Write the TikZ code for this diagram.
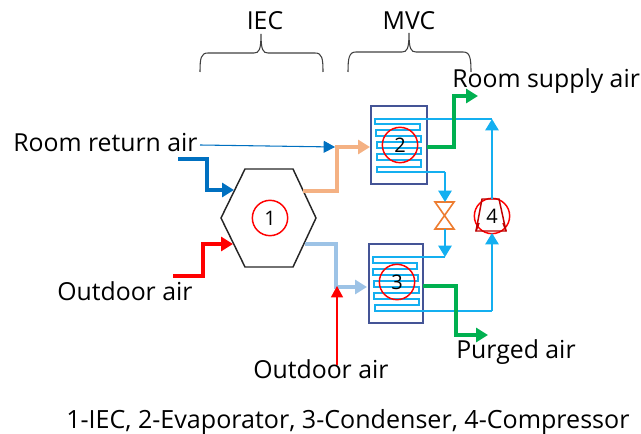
\documentclass[tikz,border=0pt]{standalone}
\usepackage{fontspec}
\setmainfont{Open Sans}
\usetikzlibrary{arrows.meta}
\definecolor{boxblue}{RGB}{68,84,150}
\definecolor{coilblue}{RGB}{20,175,240}
\definecolor{retblue}{RGB}{0,112,192}
\definecolor{pipegreen}{RGB}{0,176,80}
\definecolor{coolorange}{RGB}{244,177,131}
\definecolor{coolblue}{RGB}{157,195,230}
\definecolor{valveorange}{RGB}{237,125,49}
\definecolor{compred}{RGB}{192,0,0}
\tikzset{
  lbl/.style={inner sep=0pt,anchor=base west,font=\fontsize{18.6}{22}\selectfont},
  numcircle/.style={draw=red,line width=1.1pt,circle,minimum size=26.5pt,inner sep=0pt,font=\fontsize{15}{18}\selectfont},
  pipe/.style={line width=3pt,-{Triangle[length=9pt,width=10.5pt]}},
  coil/.style={draw=coilblue,line width=1.2pt},
  feed/.style={coil,-{Triangle[length=8.5pt,width=10pt]}},
  unitbox/.style={draw=boxblue,line width=1.2pt},
  brace/.style={draw=black!75,line width=0.8pt}
}
\begin{document}
\begin{tikzpicture}[x=0.75pt,y=-0.75pt]
    \useasboundingbox (0,0) rectangle (641,434);

    \node [lbl,anchor=base] (iec) at (265,30) {IEC};
    \node [lbl,anchor=base] (mvc) at (409,30) {MVC};
    \node [lbl] (sup) at (452,88) {Room supply air};
    \node [lbl] (ret) at (13,152) {Room return air};
    \node [lbl] (out1) at (57,300) {Outdoor air};
    \node [lbl] (out2) at (253,378) {Outdoor air};
    \node [lbl] (pur) at (456,358) {Purged air};
    \node [lbl,font=\fontsize{18.8}{22}\selectfont] (cap) at (66,428) {1-IEC, 2-Evaporator, 3-Condenser, 4-Compressor};

    % braces
    \draw [brace] (200,72) .. controls (200,58) and (201,53) .. (208,53) -- (254,53) .. controls (259,53) and (261,50) .. (261,34)
      .. controls (261,50) and (263,53) .. (268,53) -- (315,53) .. controls (322,53) and (323,58) .. (323,72);
    \draw [brace] (348,72) .. controls (348,58) and (349,52) .. (356,52) -- (402,52) .. controls (407,52) and (409,49) .. (409,33)
      .. controls (409,49) and (411,52) .. (416,52) -- (463,52) .. controls (470,52) and (471,58) .. (471,72);

    % hexagon
    \draw [line width=1.1pt,black!85] (221,218) -- (245,169) -- (293,169) -- (316,218) -- (293,267) -- (245,267) -- cycle;

    % boxes
    \draw [unitbox] (371,106) rectangle (427,184);
    \draw [unitbox] (369,244) rectangle (423,323);

    % coils
    \coordinate (t2) at (492,119);
    \coordinate (o2) at (445,172);
    \coordinate (t3) at (445,257);
    \coordinate (o3) at (492,311);
    \draw [coil] (t2) -- (375,119) -- (375,124) -- (420,124) -- (420,130) -- (376,130) -- (376,136) -- (421,136) -- (421,142) -- (377,142) -- (377,148) -- (421,148) -- (421,154) -- (377,154) -- (377,160) -- (421,160) -- (421,167) -- (377,167) -- (377,172) -- (o2);
    \draw [coil] (t3) -- (373,257) -- (373,263) -- (417,263) -- (417,269) -- (373,269) -- (373,275) -- (418,275) -- (418,281) -- (374,281) -- (374,287) -- (419,287) -- (419,293) -- (374,293) -- (374,299) -- (419,299) -- (419,305) -- (375,305) -- (375,311) -- (o3);

    % numbered circles
    \node [numcircle] (n1) at (270,218) {1};
    \node [numcircle] (n2) at (400,145) {2};
    \node [numcircle] (n3) at (397,282) {3};
    \node [numcircle] (n4) at (492,216) {4};

    % valve
    \coordinate (v1) at (445,202);
    \coordinate (v2) at (445,229);
    \draw [draw=valveorange,line width=1.2pt] (435,202) -- (454,202) -- (435,229) -- (454,229) -- cycle;

    % compressor
    \draw [draw=compred,line width=1.1pt] (482,199) -- (499,199) -- (506,231) -- (476,231) -- cycle;
    \draw [draw=compred,line width=1.1pt] (476,231) -- (479,223) (506,231) -- (503,223);
    \coordinate (c1) at (492,199);
    \coordinate (c2) at (492,233);

    % refrigerant
    \draw [feed] (o2) -- (v1);
    \draw [feed] (v2) -- (t3);
    \draw [feed] (o3) -- (c2);
    \draw [feed] (c1) -- (t2);

    % air
    \coordinate (a1) at (178,159);
    \coordinate (a2) at (207,190);
    \coordinate (a3) at (234,190);
    \draw [pipe,retblue] (a1) -| (a2) -- (a3);
    \coordinate (b1) at (173,276);
    \coordinate (b2) at (203,244);
    \coordinate (b3) at (233,244);
    \draw [pipe,red] (b1) -| (b2) -- (b3);
    \coordinate (c3) at (303,191);
    \coordinate (c4) at (337,147);
    \coordinate (c5) at (370,147);
    \draw [pipe,coolorange] (c3) -| (c4) -- (c5);
    \coordinate (d1) at (305,244);
    \coordinate (d2) at (336,287);
    \coordinate (d3) at (367,287);
    \draw [pipe,coolblue] (d1) -| (d2) -- (d3);
    \coordinate (e1) at (427,147);
    \coordinate (e2) at (454,96);
    \coordinate (e3) at (478,96);
    \draw [pipe,pipegreen] (e1) -| (e2) -- (e3);
    \coordinate (f1) at (423,286);
    \coordinate (f2) at (456,335);
    \coordinate (f3) at (488,335);
    \draw [pipe,pipegreen] (f1) -| (f2) -- (f3);

    % thin arrows
    \coordinate (g1) at (200,145);
    \coordinate (g2) at (335,147);
    \draw [retblue,line width=0.8pt,-{Triangle[length=8.5pt,width=9pt]}] (g1) -- (g2);
    \coordinate (h1) at (337,365);
    \coordinate (h2) at (337,286);
    \draw [red,line width=1pt,-{Triangle[length=8.5pt,width=9pt]}] (h1) -- (h2);

  \end{tikzpicture}
\end{document}
